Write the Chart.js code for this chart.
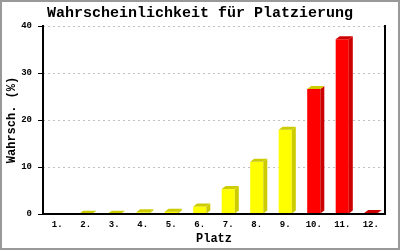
<!DOCTYPE html>
<html>
<head>
<meta charset="utf-8">
<script src="https://cdn.jsdelivr.net/npm/chart.js@4/dist/chart.umd.min.js"></script>
<style>
html,body{margin:0;padding:0;background:#fff;}
canvas{display:block;}
</style>
</head>
<body>
<canvas id="c" width="400" height="250"></canvas>
<script>
const categories = ['1.','2.','3.','4.','5.','6.','7.','8.','9.','10.','11.','12.'];
const values = [0, 0.05, 0.05, 0.35, 0.5, 1.6, 5.3, 11.1, 17.9, 26.6, 37.2, 0.2];
const frontColors = ['#ffff00','#ffff00','#ffff00','#ffff00','#ffff00','#ffff00','#ffff00','#ffff00','#ffff00','#ff0000','#ff0000','#ff0000'];
const sideColors  = ['#cccc00','#cccc00','#cccc00','#cccc00','#cccc00','#cccc00','#cccc00','#cccc00','#cccc00','#cc0000','#cc0000','#cc0000'];
const topColors   = ['#cccc00','#cccc00','#cccc00','#cccc00','#cccc00','#cccc00','#cccc00','#cccc00','#cccc00','#cccc00','#cc0000','#cc0000'];
const yTicks = [0, 10, 20, 30, 40];

const DX = 4, DY = 3;
const FONT = '"Liberation Mono", "Courier New", monospace';

const bars3d = {
  id: 'bars3d',
  afterDatasetsDraw(chart) {
    const ctx = chart.ctx;
    const meta = chart.getDatasetMeta(0);
    meta.data.forEach((bar, i) => {
      if (!values[i]) return;
      const p = bar.getProps(['x','y','base','width'], true);
      const l = p.x - p.width / 2, r = p.x + p.width / 2;
      ctx.save();
      ctx.fillStyle = sideColors[i];
      ctx.beginPath();
      ctx.moveTo(r, p.y); ctx.lineTo(r + DX, p.y - DY);
      ctx.lineTo(r + DX, p.base - DY); ctx.lineTo(r, p.base);
      ctx.closePath(); ctx.fill();
      ctx.fillStyle = topColors[i];
      ctx.beginPath();
      ctx.moveTo(l, p.y); ctx.lineTo(l + DX, p.y - DY);
      ctx.lineTo(r + DX, p.y - DY); ctx.lineTo(r, p.y);
      ctx.closePath(); ctx.fill();
      ctx.restore();
    });
  },
  afterDraw(chart) {
    const ctx = chart.ctx;
    const a = chart.chartArea;
    ctx.save();
    ctx.strokeStyle = '#000';
    ctx.lineWidth = 2;
    ctx.beginPath();
    ctx.moveTo(a.left, a.top - 1); ctx.lineTo(a.left, a.bottom);
    ctx.lineTo(a.right, a.bottom); ctx.lineTo(a.right, a.top - 1);
    ctx.stroke();
    ctx.strokeStyle = '#999';
    ctx.lineWidth = 2;
    ctx.strokeRect(1, 1, chart.width - 2, chart.height - 2);
    ctx.restore();
  }
};

new Chart(document.getElementById('c'), {
  type: 'bar',
  data: {
    labels: categories,
    datasets: [{
      data: values,
      backgroundColor: frontColors,
      borderWidth: 0,
      categoryPercentage: 1,
      barPercentage: 0.46
    }]
  },
  options: {
    responsive: false,
    animation: false,
    devicePixelRatio: 1,
    layout: { padding: 0 },
    plugins: {
      legend: { display: false },
      tooltip: { enabled: false },
      title: {
        display: true,
        text: 'Wahrscheinlichkeit für Platzierung',
        color: '#000',
        font: { family: FONT, size: 15, weight: 'bold', lineHeight: 1.2 },
        padding: { top: 4, bottom: 4 }
      }
    },
    scales: {
      x: {
        grid: { display: false, drawTicks: false, tickLength: 0 },
        border: { display: false },
        ticks: { color: '#000', padding: 5, font: { family: FONT, size: 9, weight: 'bold' }, maxRotation: 0, autoSkip: false },
        title: {
          display: true, text: 'Platz', color: '#000',
          font: { family: FONT, size: 12, weight: 'bold', lineHeight: 1.2 },
          padding: { top: 0, bottom: 4 }
        },
        afterFit(s) { s.height = 36; }
      },
      y: {
        min: 0, max: 40,
        afterBuildTicks(s) { s.ticks = yTicks.map(v => ({ value: v })); },
        grid: {
          color: '#c0c0c0', lineWidth: 1, drawTicks: true, tickLength: 5,
          tickColor: '#000', tickWidth: 1, tickBorderDash: []
        },
        border: { display: false, dash: [2, 3] },
        ticks: { color: '#000', padding: 6, font: { family: FONT, size: 9, weight: 'bold' } },
        title: {
          display: true, text: 'Wahrsch. (%)', color: '#000',
          font: { family: FONT, size: 12, weight: 'bold', lineHeight: 1.2 },
          padding: { top: 5, bottom: 0 }
        },
        afterFit(s) { s.width = 43; }
      },
      yRight: {
        position: 'right',
        min: 0, max: 40,
        grid: { display: false, drawTicks: false },
        border: { display: false },
        ticks: { display: false },
        afterFit(s) { s.width = 15; }
      }
    }
  },
  plugins: [bars3d]
});
</script>
</body>
</html>
